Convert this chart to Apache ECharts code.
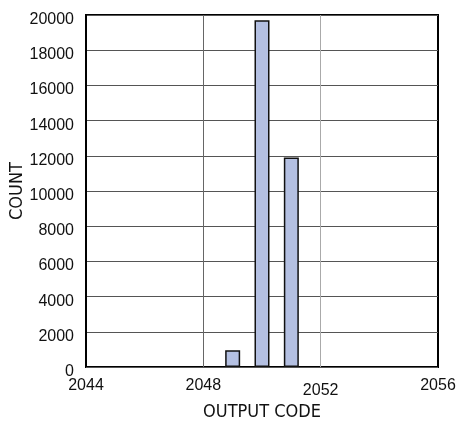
<!DOCTYPE html>
<html>
<head>
<meta charset="utf-8">
<script src="https://cdn.jsdelivr.net/npm/echarts@6/dist/echarts.min.js"></script>
<style>
  html, body { margin: 0; padding: 0; background: #fff; }
  #chart { width: 456px; height: 421px; }
</style>
</head>
<body>
<div id="chart"></div>
<script>
//--------------------------------
// Data
//--------------------------------
const codes = [2049, 2050, 2051];
const counts = [950, 19700, 11900];
const xTicks = [2044, 2048, 2052, 2056];
const yTicks = [0, 2000, 4000, 6000, 8000, 10000, 12000, 14000, 16000, 18000, 20000];

const numFont = 'Liberation Sans';
const nameFont = '"DejaVu Sans Condensed", "Liberation Sans Narrow", "Liberation Sans"';

var myChart = echarts.init(document.getElementById('chart'));

let barData = codes.map((c, i) => [c, counts[i]]);

let options = {
    animation: false,
    grid: {
        left: 86,
        right: 18,
        top: 15,
        bottom: 54,
        show: true,
        borderColor: '#000',
        borderWidth: 2,
        containLabel: false,
        outerBoundsMode: 'none'
    },
    xAxis: {
        type: 'value',
        min: xTicks[0],
        max: xTicks[xTicks.length - 1],
        interval: 4,
        name: 'OUTPUT CODE',
        nameLocation: 'middle',
        nameGap: 36,
        nameMoveOverlap: false,
        nameTextStyle: { fontFamily: nameFont, fontSize: 18, color: '#111' },
        axisLine: { show: false },
        axisTick: { show: false },
        axisLabel: {
            margin: 11,
            fontFamily: numFont,
            fontSize: 16,
            color: '#111',
            formatter: (v) => v === 2052 ? '{low|' + v + '}' : '' + v,
            rich: {
                low: { fontFamily: numFont, fontSize: 16, color: '#111', padding: [5, 0, 0, 0] }
            }
        },
        splitLine: {
            show: true,
            lineStyle: { color: ['#000', '#666', '#aaa', '#000'], width: 1 }
        }
    },
    yAxis: {
        type: 'value',
        min: yTicks[0],
        max: yTicks[yTicks.length - 1],
        interval: 2000,
        name: 'COUNT',
        nameLocation: 'middle',
        nameGap: 60,
        nameMoveOverlap: false,
        nameTextStyle: { fontFamily: nameFont, fontSize: 18, color: '#111' },
        axisLine: { show: false },
        axisTick: { show: false },
        axisLabel: {
            margin: 12,
            fontFamily: numFont,
            fontSize: 16,
            color: '#111',
            formatter: (v) => '{n|' + v + '}',
            rich: {
                n: { fontFamily: numFont, fontSize: 16, color: '#111', padding: [9, 0, 0, 0] }
            }
        },
        splitLine: {
            show: true,
            lineStyle: { color: '#555', width: 1 }
        }
    },
    series: [
        {
            type: 'bar',
            data: barData,
            barWidth: 15,
            itemStyle: {
                color: '#b4c0e2',
                borderColor: '#111',
                borderWidth: 1.5
            }
        }
    ]
};

myChart.setOption(options);
</script>
</body>
</html>
